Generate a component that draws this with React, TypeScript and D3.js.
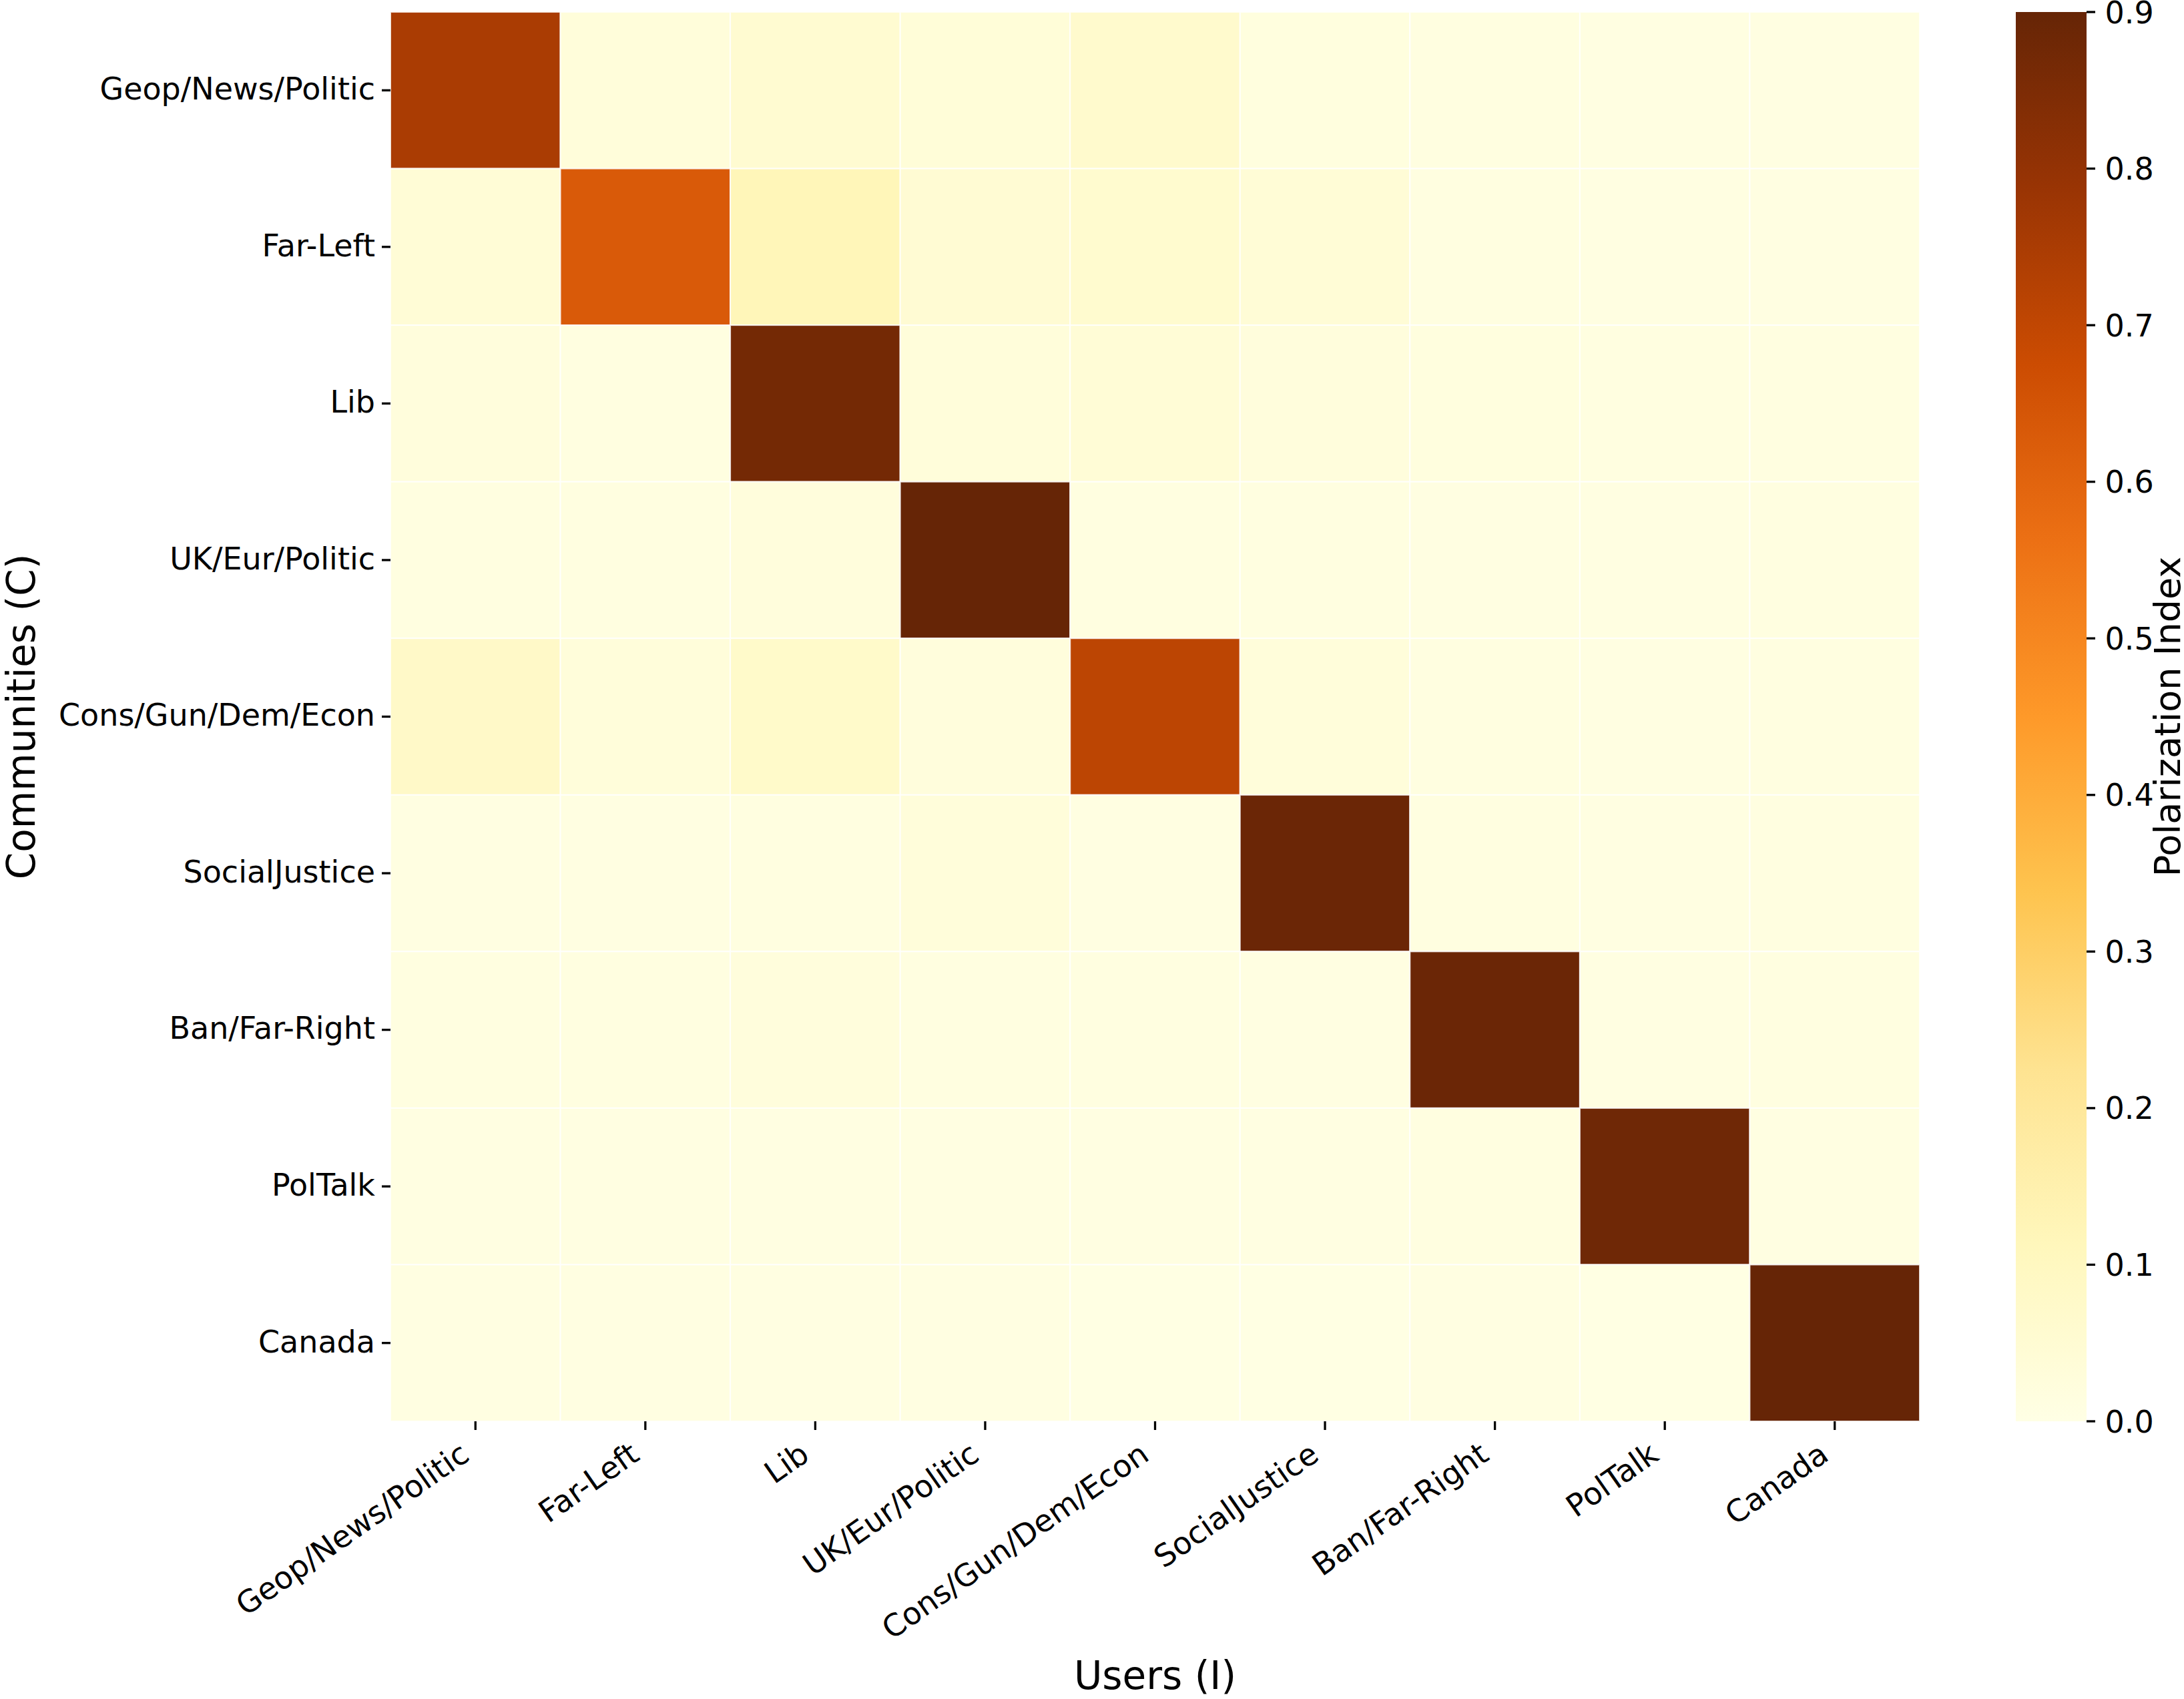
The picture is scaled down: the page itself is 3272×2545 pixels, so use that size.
import React from 'react'
import * as d3 from 'd3'

// communities (rows) and users (columns) share the same labels
const communities = [
  'Geop/News/Politic',
  'Far-Left',
  'Lib',
  'UK/Eur/Politic',
  'Cons/Gun/Dem/Econ',
  'SocialJustice',
  'Ban/Far-Right',
  'PolTalk',
  'Canada',
]
const users = communities

// polarization index (row = community, col = users)
const rowGeop = [0.75, 0.03, 0.055, 0.035, 0.065, 0.02, 0.015, 0.012, 0.012]
const rowFarLeft = [0.04, 0.63, 0.12, 0.05, 0.06, 0.04, 0.015, 0.012, 0.012]
const rowLib = [0.025, 0.015, 0.87, 0.03, 0.04, 0.025, 0.02, 0.015, 0.015]
const rowUK = [0.015, 0.015, 0.025, 0.9, 0.015, 0.015, 0.012, 0.012, 0.015]
const rowCons = [0.08, 0.03, 0.075, 0.025, 0.71, 0.03, 0.015, 0.01, 0.015]
const rowSocial = [0.01, 0.01, 0.015, 0.03, 0.01, 0.89, 0.015, 0.01, 0.015]
const rowBan = [0.015, 0.015, 0.025, 0.015, 0.015, 0.01, 0.89, 0.01, 0.015]
const rowPolTalk = [0.01, 0.01, 0.01, 0.01, 0.01, 0.01, 0.015, 0.88, 0.01]
const rowCanada = [0.01, 0.01, 0.01, 0.01, 0.006, 0.006, 0.01, 0.006, 0.9]
const values = [rowGeop, rowFarLeft, rowLib, rowUK, rowCons, rowSocial, rowBan, rowPolTalk, rowCanada]

const ylOrBr = ['#ffffe5', '#fff7bc', '#fee391', '#fec44f', '#fe9929', '#ec7014', '#cc4c02', '#993404', '#662506']
const vMin = 0
const vMax = 0.9
const cbTicks = [0, 0.1, 0.2, 0.3, 0.4, 0.5, 0.6, 0.7, 0.8, 0.9]

const W = 3272
const H = 2545
const left = 585
const right = 2876
const top = 18
const bottom = 2129
const cbX = 3020
const cbW = 106
const tickLen = 13
const tickPad = 14.6
const font = 'DejaVu Sans'
const tickSize = 46
const labelSize = 58
const cbLabelSize = 54
const angle = 35

const App = () => {
  const x = d3.scaleBand<string>().domain(users).range([left, right])
  const y = d3.scaleBand<string>().domain(communities).range([top, bottom])
  const color = d3
    .scaleLinear<string>()
    .domain(ylOrBr.map((_, i) => vMin + (i / (ylOrBr.length - 1)) * (vMax - vMin)))
    .range(ylOrBr)
    .interpolate(d3.interpolateRgb)
    .clamp(true)
  const cbY = d3.scaleLinear().domain([vMin, vMax]).range([bottom, top])
  const fmt = d3.format('.1f')

  const rad = (angle * Math.PI) / 180
  const descent = 0.24 * tickSize
  const ascent = 0.76 * tickSize
  const xLabelTop = bottom + tickLen + tickPad
  const midY = (top + bottom) / 2

  return (
    <svg
      width={W}
      height={H}
      style={{ position: 'absolute', left: 0, top: 0, background: 'white' }}
      fontFamily={font}
    >
      <defs>
        <linearGradient id="cb" x1="0" y1="1" x2="0" y2="0">
          {ylOrBr.map((c, i) => (
            <stop key={i} offset={i / (ylOrBr.length - 1)} stopColor={c} />
          ))}
        </linearGradient>
      </defs>

      {/* cells */}
      <g>
        {values.map((row, ri) =>
          row.map((v, ci) => (
            <rect
              key={ri + '-' + ci}
              x={x(users[ci])}
              y={y(communities[ri])}
              width={x.bandwidth()}
              height={y.bandwidth()}
              fill={color(v)}
              stroke="white"
              strokeOpacity={0.8}
              strokeWidth={2}
            />
          ))
        )}
      </g>

      {/* y axis */}
      <g>
        {communities.map((c) => {
          const cy = (y(c) as number) + y.bandwidth() / 2
          return (
            <g key={c}>
              <line x1={left - tickLen} x2={left} y1={cy} y2={cy} stroke="black" strokeWidth={3.3} />
              <text x={left - tickLen - 10} y={cy} dy="0.3em" textAnchor="end" fontSize={tickSize}>
                {c}
              </text>
            </g>
          )
        })}
      </g>

      {/* x axis */}
      <g>
        {users.map((u) => {
          const cx = (x(u) as number) + x.bandwidth() / 2
          const ax = cx - descent * Math.sin(rad)
          const ay = xLabelTop + ascent * Math.cos(rad)
          return (
            <g key={u}>
              <line x1={cx} x2={cx} y1={bottom} y2={bottom + tickLen} stroke="black" strokeWidth={3.3} />
              <text
                x={ax}
                y={ay}
                textAnchor="end"
                fontSize={tickSize}
                transform={`rotate(${-angle},${ax},${ay})`}
              >
                {u}
              </text>
            </g>
          )
        })}
      </g>

      <text x={(left + right) / 2} y={2530} textAnchor="middle" fontSize={labelSize}>
        Users (I)
      </text>
      <text
        x={52}
        y={midY}
        textAnchor="middle"
        fontSize={labelSize}
        transform={`rotate(-90,52,${midY})`}
      >
        Communities (C)
      </text>

      {/* colorbar */}
      <rect x={cbX} y={top} width={cbW} height={bottom - top} fill="url(#cb)" />
      {cbTicks.map((t) => (
        <g key={t}>
          <line
            x1={cbX + cbW}
            x2={cbX + cbW + tickLen}
            y1={cbY(t)}
            y2={cbY(t)}
            stroke="black"
            strokeWidth={3.3}
          />
          <text x={cbX + cbW + tickLen + tickPad} y={cbY(t)} dy="0.36em" fontSize={tickSize}>
            {fmt(t)}
          </text>
        </g>
      ))}
      <text
        x={3266}
        y={midY}
        textAnchor="middle"
        fontSize={cbLabelSize}
        transform={`rotate(-90,3266,${midY})`}
      >
        Polarization Index
      </text>
    </svg>
  )
}

export default App
